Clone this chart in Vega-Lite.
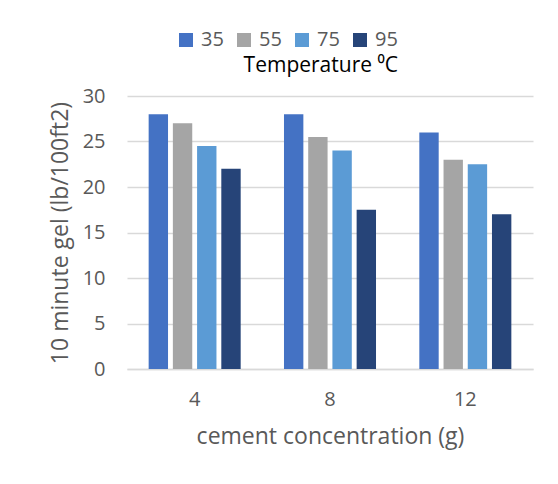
{
  "$schema": "https://vega.github.io/schema/vega-lite/v6.json",
  "width": 406,
  "height": 273,
  "autosize": {"type": "none"},
  "padding": {"left": 127, "top": 96, "right": 25, "bottom": 115},
  "background": "white",
  "config": {
    "font": "Open Sans",
    "view": {"stroke": null}
  },
  "data": {
    "values": [
      {"conc": "4", "temp": "35", "gel": 28},
      {"conc": "4", "temp": "55", "gel": 27},
      {"conc": "4", "temp": "75", "gel": 24.5},
      {"conc": "4", "temp": "95", "gel": 22},
      {"conc": "8", "temp": "35", "gel": 28},
      {"conc": "8", "temp": "55", "gel": 25.5},
      {"conc": "8", "temp": "75", "gel": 24},
      {"conc": "8", "temp": "95", "gel": 17.5},
      {"conc": "12", "temp": "35", "gel": 26},
      {"conc": "12", "temp": "55", "gel": 23},
      {"conc": "12", "temp": "75", "gel": 22.5},
      {"conc": "12", "temp": "95", "gel": 17}
    ]
  },
  "mark": {"type": "bar"},
  "encoding": {
    "x": {
      "field": "conc", "type": "nominal", "sort": ["4", "8", "12"],
      "scale": {"paddingInner": 0.32, "paddingOuter": 0.16},
      "axis": {
        "title": "cement concentration (g)", "labelAngle": 0, "ticks": false,
        "domainColor": "#D9D9D9", "domainWidth": 1.5,
        "labelFontSize": 20, "labelColor": "#595959", "labelPadding": 20,
        "titleFontSize": 23, "titleColor": "#595959", "titleFontWeight": "normal", "titlePadding": 16
      }
    },
    "xOffset": {"field": "temp", "type": "nominal", "sort": ["35", "55", "75", "95"], "scale": {"paddingInner": 0.2, "paddingOuter": 0}},
    "y": {
      "field": "gel", "type": "quantitative",
      "scale": {"domain": [0, 30]},
      "axis": {
        "title": "10 minute gel (lb/100ft2)", "values": [0, 5, 10, 15, 20, 25, 30],
        "ticks": false, "domain": false, "gridColor": "#D9D9D9", "gridWidth": 1.5,
        "labelFontSize": 20, "labelColor": "#595959", "labelPadding": 22,
        "titleFontSize": 23, "titleColor": "#595959", "titleFontWeight": "normal", "titlePadding": 10
      }
    },
    "color": {
      "field": "temp", "type": "nominal", "sort": ["35", "55", "75", "95"],
      "scale": {"range": ["#4472C4", "#A5A5A5", "#5B9BD5", "#264478"]},
      "legend": {
        "title": "Temperature ⁰C", "orient": "none", "direction": "horizontal",
        "legendX": 49, "legendY": -66, "titleOrient": "bottom", "titleAnchor": "end",
        "titleFontSize": 21, "titleColor": "black", "titleFontWeight": "normal", "titlePadding": 5,
        "symbolType": "square", "symbolSize": 196, "symbolStrokeWidth": 0, "symbolOpacity": 1,
        "labelFontSize": 20, "labelColor": "#595959", "labelOffset": 5, "columnPadding": 10
      }
    }
  }
}
